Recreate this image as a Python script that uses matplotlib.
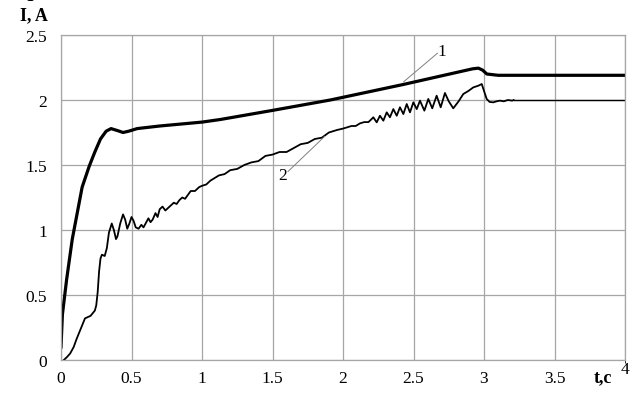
import numpy as np
import matplotlib.pyplot as plt

plt.rcParams['font.family'] = ['Liberation Serif', 'DejaVu Serif']

# curve 1 (thick)
t1 = [0.0, 0.01, 0.04, 0.08, 0.15, 0.20, 0.24, 0.28, 0.32, 0.355, 0.40, 0.44,
      0.48, 0.54, 0.70, 1.00, 1.13, 1.50, 1.91, 2.43, 2.92, 2.96, 2.99, 3.02,
      3.10, 4.00]
i1 = [0.10, 0.35, 0.62, 0.93, 1.33, 1.49, 1.60, 1.70, 1.76, 1.78, 1.765, 1.75,
      1.76, 1.78, 1.80, 1.83, 1.85, 1.92, 2.00, 2.12, 2.24, 2.245, 2.23, 2.20,
      2.19, 2.19]

# curve 2 (thin, noisy)
t2 = [0.02, 0.04, 0.065, 0.09, 0.11, 0.14, 0.17, 0.21, 0.24, 0.25, 0.26,
      0.27, 0.28, 0.29, 0.31, 0.325, 0.34, 0.36, 0.375, 0.39, 0.40, 0.42,
      0.44, 0.455, 0.47, 0.485, 0.50, 0.515, 0.53, 0.55, 0.57, 0.585, 0.60,
      0.62, 0.635, 0.65, 0.67, 0.685, 0.70, 0.72, 0.74, 0.76, 0.78, 0.80,
      0.82, 0.84, 0.86, 0.88, 0.90, 0.92, 0.95, 0.98, 1.00, 1.03, 1.06, 1.09,
      1.12, 1.16, 1.20, 1.25, 1.30, 1.35, 1.40, 1.45, 1.50, 1.55, 1.60, 1.65,
      1.70, 1.75, 1.80, 1.85, 1.90, 1.93, 1.96, 2.00, 2.03, 2.06, 2.09, 2.12,
      2.15, 2.18, 2.20,
      2.215, 2.239, 2.262, 2.286, 2.31, 2.333, 2.357, 2.381, 2.404, 2.428,
      2.452, 2.475, 2.499, 2.523, 2.546, 2.577, 2.605, 2.633, 2.664, 2.693,
      2.723, 2.75, 2.782, 2.82, 2.853, 2.89, 2.924, 2.96, 2.984, 3.00, 3.019,
      3.04, 3.066, 3.09, 3.113, 3.14, 3.17, 3.20, 3.21]
i2 = [0.00, 0.02, 0.05, 0.10, 0.16, 0.24, 0.32, 0.34, 0.38, 0.42, 0.52,
      0.68, 0.78, 0.81, 0.80, 0.86, 0.98, 1.05, 1.00, 0.93, 0.95, 1.05,
      1.12, 1.08, 1.01, 1.05, 1.10, 1.07, 1.02, 1.01, 1.04, 1.02, 1.05,
      1.09, 1.06, 1.08, 1.13, 1.10, 1.16, 1.18, 1.15, 1.17, 1.19, 1.21,
      1.20, 1.23, 1.25, 1.24, 1.27, 1.30, 1.30, 1.33, 1.34, 1.35, 1.38, 1.40,
      1.42, 1.43, 1.46, 1.47, 1.50, 1.52, 1.53, 1.57, 1.58, 1.60, 1.60, 1.63,
      1.66, 1.67, 1.70, 1.71, 1.75, 1.76, 1.77, 1.78, 1.79, 1.80, 1.80, 1.82,
      1.83, 1.83, 1.85,
      1.867, 1.828, 1.879, 1.841, 1.905, 1.867, 1.930, 1.879, 1.944, 1.892,
      1.969, 1.905, 1.982, 1.930, 1.995, 1.918, 2.008, 1.936, 2.033, 1.944,
      2.054, 1.990, 1.936, 1.990, 2.046, 2.070, 2.097, 2.110, 2.123, 2.070,
      2.008, 1.985, 1.982, 1.990, 1.995, 1.990, 2.000, 1.995, 2.000]
t2_end = [3.21, 4.00]
i2_end = [2.00, 2.00]

xticks = [0, 0.5, 1, 1.5, 2, 2.5, 3, 3.5]
xlabels = ['0', '0.5', '1', '1.5', '2', '2.5', '3', '3.5']
yticks = [0, 0.5, 1, 1.5, 2, 2.5]
ylabels = ['0', '0.5', '1', '1.5', '2', '2.5']

fig = plt.figure(figsize=(6.38, 4.06), dpi=100)
ax = fig.add_axes([61/638, 1 - 361/406, (625-61)/638, (361-36)/406])

ax.plot(t1, i1, color='black', lw=2.3, solid_joinstyle='round')
ax.plot(t2, i2, color='black', lw=1.3)
ax.plot(t2_end, i2_end, color='black', lw=1.0)

ax.set_xlim(0, 4)
ax.set_ylim(0, 2.5)
ax.set_xticks(xticks)
ax.set_xticklabels(xlabels)
ax.set_yticks(yticks)
ax.set_yticklabels(ylabels)
ax.tick_params(length=0, labelsize=12.5)
ax.tick_params(axis='x', pad=7)
ax.tick_params(axis='y', pad=10)
ax.set_xticks([4], minor=True)
ax.grid(True, color='#a6a6a6', lw=0.9)
ax.xaxis.grid(True, which='minor', color='#a6a6a6', lw=0.9)
for s in ax.spines.values():
    s.set_color('#a6a6a6')
    s.set_linewidth(0.9)

# labels of the curves
ax.plot([2.43, 2.67], [2.14, 2.36], color='#808080', lw=0.7)
ax.text(2.70, 2.38, '1', fontsize=12.5, ha='center', va='center')
ax.plot([1.61, 1.87], [1.45, 1.72], color='#808080', lw=0.7)
ax.text(1.57, 1.42, '2', fontsize=12.5, ha='center', va='center')

# axis names
ax.text(4.0, -0.01, '4', fontsize=12.5, ha='center', va='top')
fig.text(603/638, 1 - 378/406, 't,c', fontsize=13, fontweight='bold',
         ha='center', va='center')
fig.text(34/638, 1 - 16/406, 'I, A', fontsize=13, fontweight='bold',
         ha='center', va='center')
fig.text(30/638, 1 - 5/406, 'I', fontsize=13, fontweight='bold',
         ha='center', va='bottom')

fig.savefig('out.png', dpi=100)
